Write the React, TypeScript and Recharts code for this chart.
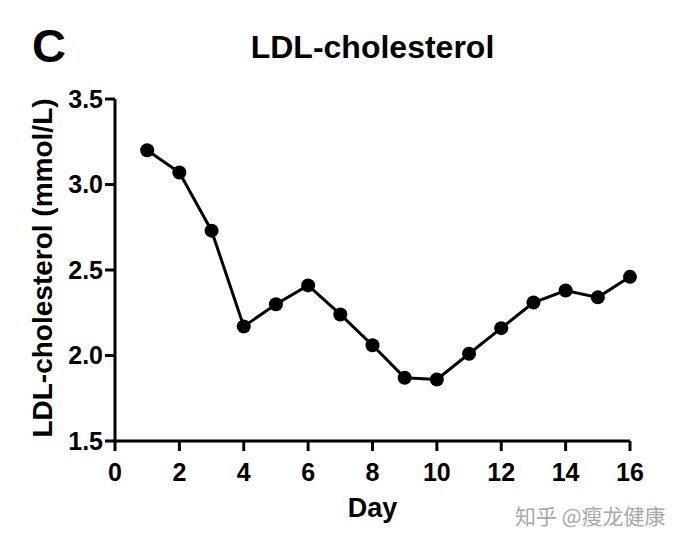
import React from 'react';
import { LineChart, Line, XAxis, YAxis } from 'recharts';

const days = [1, 2, 3, 4, 5, 6, 7, 8, 9, 10, 11, 12, 13, 14, 15, 16];
const ldl = [3.20, 3.07, 2.73, 2.17, 2.30, 2.41, 2.24, 2.06, 1.87, 1.86, 2.01, 2.16, 2.31, 2.38, 2.34, 2.46];
const xTicks = [0, 2, 4, 6, 8, 10, 12, 14, 16];
const yTicks = [1.5, 2.0, 2.5, 3.0, 3.5];
const panelLetter = 'C';
const chartTitle = 'LDL-cholesterol';
const xLabel = 'Day';
const yLabel = 'LDL-cholesterol (mmol/L)';
const watermark = '知乎 @瘦龙健康';

const data = days.map((d, i) => ({ day: d, value: ldl[i] }));

const FONT = '"Liberation Sans", Arial, Helvetica, sans-serif';

export default function App() {
  return (
    <div style={{ position: 'absolute', left: 0, top: 0, width: 680, height: 546, background: '#fff' }}>
      <LineChart
        width={680}
        height={546}
        data={data}
        margin={{ top: 99, right: 50, bottom: 0, left: 0 }}
      >
        <XAxis
          dataKey="day"
          type="number"
          domain={[0, 16]}
          ticks={xTicks}
          height={105}
          stroke="#000"
          strokeWidth={3}
          tickSize={10}
          tickMargin={12}
          tick={{ fill: '#000', fontSize: 25, fontWeight: 'bold', fontFamily: FONT }}
          tickFormatter={(v: number) => String(v)}
        />
        <YAxis
          type="number"
          domain={[1.5, 3.5]}
          ticks={yTicks}
          width={115}
          stroke="#000"
          strokeWidth={3}
          tickSize={10}
          tickMargin={2}
          tick={{ fill: '#000', fontSize: 25, fontWeight: 'bold', fontFamily: FONT }}
          tickFormatter={(v: number) => v.toFixed(1)}
        />
        <Line
          type="linear"
          dataKey="value"
          stroke="#000"
          strokeWidth={3}
          dot={{ r: 7, fill: '#000', stroke: '#000', strokeWidth: 0 }}
          isAnimationActive={false}
        />
      </LineChart>
      <svg
        width={680}
        height={546}
        style={{ position: 'absolute', left: 0, top: 0, pointerEvents: 'none' }}
      >
        <text x={32} y={62} fontFamily={FONT} fontWeight="bold" fontSize={47} fill="#000">
          {panelLetter}
        </text>
        <text x={372.5} y={58} textAnchor="middle" fontFamily={FONT} fontWeight="bold" fontSize={32} fill="#000">
          {chartTitle}
        </text>
        <text x={372.5} y={517} textAnchor="middle" fontFamily={FONT} fontWeight="bold" fontSize={27} fill="#000">
          {xLabel}
        </text>
        <text
          x={52}
          y={268}
          transform="rotate(-90 52 268)"
          textAnchor="middle"
          fontFamily={FONT}
          fontWeight="bold"
          fontSize={28}
          fill="#000"
        >
          {yLabel}
        </text>
        <text x={515} y={524} fontFamily='"Noto Sans CJK SC", sans-serif' fontSize={21} fill="#a8a8a8">
          {watermark}
        </text>
      </svg>
    </div>
  );
}
